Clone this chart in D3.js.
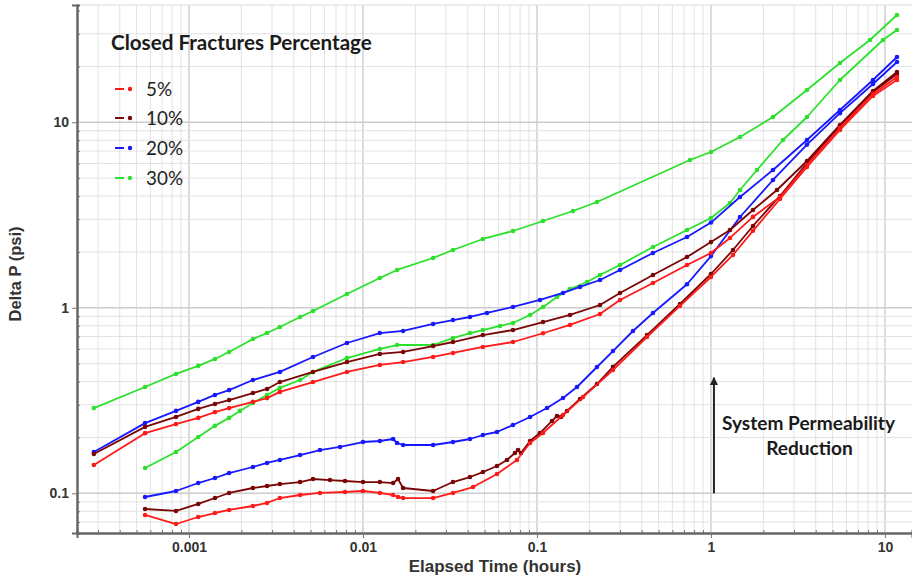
<!DOCTYPE html>
<html>
<head>
<meta charset="utf-8">
<script src="https://cdn.jsdelivr.net/npm/d3@7"></script>
<style>
  html, body { margin: 0; padding: 0; background: #fff; }
  svg { display: block; }
</style>
</head>
<body>
<svg id="chart" width="912" height="580"></svg>
<script>
// ---------------- DATA (elapsed time in hours, delta P in psi) ----------------
const legendLabels = ["5%", "10%", "20%", "30%"];
const xTickValues = [0.001, 0.01, 0.1, 1, 10];
const yTickValues = [0.1, 1, 10];

// 5% closed fractures – upper curve
const red5Upper = [
  [0.000284,0.142],[0.000559,0.211],[0.000842,0.236],[0.00113,0.255],[0.00141,0.274],
  [0.00170,0.288],[0.00233,0.311],[0.00281,0.326],[0.00333,0.352],[0.00516,0.398],
  [0.00809,0.451],[0.0125,0.492],[0.0170,0.510],[0.0253,0.543],[0.0329,0.571],
  [0.0489,0.615],[0.0728,0.654],[0.1083,0.729],[0.1548,0.808],
  [0.2302,0.926],[0.300,1.102],[0.464,1.360],[0.728,1.701],[1.0,1.975],
  [1.286,2.38],[1.743,3.09],[2.493,3.957],[3.562,5.886],[5.512,9.318],
  [8.531,14.21],[11.72,17.55]
];
// 5% closed fractures – lower curve
const red5Lower = [
  [0.000559,0.0764],[0.000842,0.0683],[0.00113,0.0745],[0.00141,0.0783],[0.00170,0.0813],
  [0.00233,0.0854],[0.00281,0.0887],[0.00333,0.0943],[0.00435,0.0979],[0.00566,0.1004],
  [0.00788,0.1016],[0.0100,0.1029],[0.0125,0.1004],[0.0149,0.0979],[0.0159,0.0955],
  [0.0170,0.0943],[0.0253,0.0943],[0.0329,0.1004],[0.0429,0.1081],[0.0589,0.1271],
  [0.0767,0.1512],[0.0912,0.1867],[0.1083,0.2113],[0.1411,0.2643],[0.1839,0.330],
  [0.2734,0.4621],[0.4287,0.6959],[0.6634,1.023],[1.0,1.466],[1.338,1.926],
  [1.743,2.60],[2.493,3.859],[3.562,5.741],[5.512,9.089],[8.531,13.86],[11.72,16.90]
];
// 10% closed fractures – upper curve
const darkRed10Upper = [
  [0.000284,0.163],[0.000559,0.228],[0.000842,0.258],[0.00113,0.285],[0.00141,0.303],
  [0.00170,0.318],[0.00233,0.347],[0.00281,0.365],[0.00333,0.398],[0.00516,0.451],
  [0.00809,0.510],[0.0125,0.564],[0.0170,0.578],[0.0253,0.622],[0.0329,0.654],
  [0.0489,0.713],[0.0728,0.759],[0.1083,0.838],[0.1548,0.915],[0.2302,1.035],
  [0.300,1.202],[0.464,1.503],[0.728,1.878],[1.0,2.26],[1.286,2.627],
  [1.743,3.367],[2.395,4.315],[3.562,6.186],[5.512,9.671],[8.531,14.75],[11.72,18.67]
];
// 10% closed fractures – lower curve
const darkRed10Lower = [
  [0.000559,0.0823],[0.000842,0.0803],[0.00113,0.0876],[0.00141,0.0943],[0.00170,0.1004],
  [0.00233,0.1068],[0.00281,0.1095],[0.00333,0.1122],[0.00435,0.1150],[0.00516,0.1194],
  [0.00646,0.1179],[0.00788,0.1165],[0.0100,0.1150],[0.0125,0.1150],[0.0149,0.1136],
  [0.0159,0.1194],[0.0170,0.1068],[0.0253,0.1029],[0.0329,0.1150],[0.0412,0.1224],
  [0.0489,0.1302],[0.0589,0.1404],[0.0672,0.1512],[0.0747,0.1649],[0.0778,0.1711],
  [0.0809,0.1649],[0.0912,0.1914],[0.1040,0.2113],[0.1220,0.2454],[0.1303,0.2610],
  [0.1374,0.2578],[0.1487,0.2777],[0.1767,0.3224],[0.2212,0.3883],[0.2734,0.480],
  [0.4287,0.713],[0.6634,1.048],[1.0,1.521],[1.338,2.049],[1.743,2.761],
  [2.493,4.007],[3.562,6.035],[5.512,9.552],[8.531,14.57],[11.72,18.21]
];
// 20% closed fractures – upper curve
const blue20Upper = [
  [0.000284,0.167],[0.000559,0.239],[0.000842,0.278],[0.00113,0.311],[0.00141,0.339],
  [0.00170,0.360],[0.00233,0.408],[0.00333,0.451],[0.00516,0.543],[0.00809,0.646],
  [0.0125,0.731],[0.0170,0.750],[0.0253,0.818],[0.0329,0.859],[0.0412,0.892],
  [0.0516,0.938],[0.0728,1.010],[0.1040,1.102],[0.1411,1.202],[0.1767,1.295],
  [0.2302,1.412],[0.300,1.599],[0.464,1.975],[0.728,2.408],[1.0,2.88],
  [1.468,3.957],[2.272,5.533],[3.562,8.027],[5.512,11.65],
  [8.531,16.90],[11.72,22.49]
];
// 20% closed fractures – lower curve
const blue20Lower = [
  [0.000559,0.0955],[0.000842,0.1029],[0.00113,0.1136],[0.00141,0.1209],[0.00170,0.1286],
  [0.00233,0.1386],[0.00281,0.1457],[0.00333,0.1512],[0.00435,0.1608],[0.00566,0.1711],
  [0.00738,0.1777],[0.0100,0.1890],[0.0125,0.1914],[0.0149,0.1962],[0.0157,0.1867],
  [0.0170,0.1821],[0.0253,0.1821],[0.0329,0.1890],[0.0412,0.1962],[0.0489,0.2062],
  [0.0589,0.2140],[0.0728,0.2334],[0.0912,0.2578],[0.1142,0.2883],[0.1411,0.3264],
  [0.1698,0.3741],[0.2212,0.4796],[0.2734,0.5848],[0.3562,0.7498],[0.464,0.9376],
  [0.728,1.34],[1.0,1.90],[1.468,3.086],[2.272,4.886],[3.562,7.58],
  [5.512,11.20],[8.531,16.08],[11.72,21.14]
];
// 30% closed fractures – upper curve
const green30Upper = [
  [0.000284,0.288],[0.000559,0.374],[0.000842,0.440],[0.00113,0.486],[0.00141,0.530],
  [0.00170,0.578],[0.00233,0.679],[0.00281,0.731],[0.00333,0.788],[0.00435,0.892],
  [0.00516,0.961],[0.00809,1.187],[0.0125,1.447],[0.0157,1.599],[0.0253,1.855],
  [0.0329,2.049],[0.0489,2.349],[0.0728,2.594],[0.1083,2.937],[0.1610,3.325],
  [0.2212,3.719],[0.757,6.264],[1.0,6.918],[1.468,8.331],[2.272,10.68],
  [3.562,14.93],[5.512,20.88],[8.200,27.78],[11.72,37.88]
];
// 30% closed fractures – lower curve
const green30Lower = [
  [0.000559,0.137],[0.000842,0.167],[0.00113,0.201],[0.00141,0.231],[0.00170,0.255],
  [0.00196,0.278],[0.00233,0.307],[0.00281,0.339],[0.00333,0.370],[0.00435,0.408],
  [0.00516,0.451],[0.00809,0.536],[0.0125,0.600],[0.0157,0.630],[0.0253,0.630],
  [0.0329,0.687],[0.0412,0.731],[0.0489,0.759],[0.0613,0.798],[0.0728,0.828],
  [0.0912,0.915],[0.1083,1.010],[0.1303,1.144],[0.1548,1.263],[0.1939,1.377],
  [0.2302,1.503],[0.300,1.701],[0.464,2.127],[0.728,2.627],[1.0,3.049],
  [1.286,3.673],[1.468,4.315],[1.838,5.533],[2.593,8.027],[3.562,10.68],
  [5.512,16.90],[9.739,27.78],[11.72,31.45]
];

// annotation anchor (data coordinates)
const arrowTime = 1.04, arrowFrom = 0.1, arrowTo = 0.42;

// ---------------- STYLE ----------------
const colors = { "5%": "#ff1a1a", "10%": "#7a0505", "20%": "#1818ff", "30%": "#2ee02e" };
const curves = [
  { key: "30%", data: green30Upper }, { key: "30%", data: green30Lower },
  { key: "20%", data: blue20Upper },  { key: "20%", data: blue20Lower },
  { key: "10%", data: darkRed10Upper }, { key: "10%", data: darkRed10Lower },
  { key: "5%", data: red5Upper },     { key: "5%", data: red5Lower }
];

const plot = { left: 77, right: 912, top: 5, bottom: 533 };
const axisFont = "'Liberation Sans', Arial, sans-serif";
const labelFont = "Lato, 'Open Sans', sans-serif";

const svg = d3.select("#chart");

const x = d3.scaleLog().domain([0.0002272, 14.30]).range([plot.left, plot.right]);
const y = d3.scaleLog().domain([0.06109, 42.88]).range([plot.bottom, plot.top]);

// ---------------- GRID ----------------
const isMajor = v => Math.abs(Math.log10(v) - Math.round(Math.log10(v))) < 1e-6;
const xGrid = x.ticks();
const yGrid = y.ticks().filter(v => y(v) > plot.top + 8);

const grid = svg.append("g");
grid.selectAll("line.vx").data(xGrid).join("line")
  .attr("x1", d => x(d)).attr("x2", d => x(d))
  .attr("y1", plot.top).attr("y2", plot.bottom)
  .attr("stroke", d => isMajor(d) ? "#cccccc" : "#e2e2e2")
  .attr("stroke-width", d => isMajor(d) ? 1.4 : 1);
grid.selectAll("line.hy").data(yGrid).join("line")
  .attr("x1", plot.left).attr("x2", plot.right)
  .attr("y1", d => y(d)).attr("y2", d => y(d))
  .attr("stroke", d => isMajor(d) ? "#cccccc" : "#e2e2e2")
  .attr("stroke-width", d => isMajor(d) ? 1.4 : 1);
grid.append("line")
  .attr("x1", plot.left).attr("x2", plot.right)
  .attr("y1", plot.top).attr("y2", plot.top)
  .attr("stroke", "#dcdcdc").attr("stroke-width", 1.2);

// ---------------- CURVES ----------------
const line = d3.line().x(d => x(d[0])).y(d => y(d[1]));
const curveG = svg.append("g");
curves.forEach(c => {
  const g = curveG.append("g");
  g.append("path").datum(c.data)
    .attr("d", line).attr("fill", "none")
    .attr("stroke", colors[c.key]).attr("stroke-width", 1.8)
    .attr("stroke-linejoin", "round");
  g.selectAll("circle").data(c.data).join("circle")
    .attr("cx", d => x(d[0])).attr("cy", d => y(d[1]))
    .attr("r", 2.3).attr("fill", colors[c.key]);
});

// ---------------- AXES ----------------
const fmt = d => d >= 1 ? d3.format("d")(d) : String(d);
const xMinor = xGrid.filter(v => !isMajor(v));
const yMinor = y.ticks().filter(v => !isMajor(v));

const xAxisG = svg.append("g").attr("transform", `translate(0,${plot.bottom})`);
xAxisG.call(d3.axisBottom(x).tickValues(xMinor).tickSize(-3).tickFormat(""));
xAxisG.append("g").call(d3.axisBottom(x).tickValues(xTickValues).tickSize(5).tickPadding(4).tickFormat(fmt));

const yAxisG = svg.append("g").attr("transform", `translate(${plot.left},0)`);
yAxisG.call(d3.axisLeft(y).tickValues(yMinor).tickSize(-3).tickFormat(""));
yAxisG.append("g").call(d3.axisLeft(y).tickValues(yTickValues).tickSize(5).tickPadding(3).tickFormat(fmt));

svg.selectAll(".domain").attr("stroke", "#666").attr("stroke-width", 2);
svg.selectAll(".tick line").attr("stroke", "#777").attr("stroke-width", 1);
svg.selectAll(".tick text")
  .attr("font-family", axisFont).attr("font-weight", "bold")
  .attr("font-size", 14).attr("fill", "#333");

svg.append("text")
  .attr("x", 495).attr("y", 572)
  .attr("text-anchor", "middle")
  .attr("font-family", axisFont).attr("font-weight", "bold").attr("font-size", 17)
  .attr("fill", "#333").text("Elapsed Time (hours)");

svg.append("text")
  .attr("transform", "translate(21,274) rotate(-90)")
  .attr("text-anchor", "middle")
  .attr("font-family", axisFont).attr("font-weight", "bold").attr("font-size", 16.5)
  .attr("fill", "#333").text("Delta P (psi)");

// ---------------- LEGEND ----------------
function fitWidth(sel, w) {
  const len = sel.node().getComputedTextLength();
  const fs = parseFloat(sel.attr("font-size"));
  if (len > 0) sel.attr("font-size", (fs * w / len).toFixed(2));
  return sel;
}

const leg = svg.append("g");
const legTitle = leg.append("text")
  .attr("x", 111).attr("y", 50)
  .attr("font-family", labelFont).attr("font-weight", "bold").attr("font-size", 20)
  .attr("fill", "#1a1a1a").text("Closed Fractures Percentage");
fitWidth(legTitle, 261);

const legRowY = [89, 118, 148, 178];
const probe = leg.append("text").attr("font-family", labelFont)
  .attr("font-size", 20).text("10%");
fitWidth(probe, 37);
const legFs = probe.attr("font-size");
probe.remove();

legendLabels.forEach((k, i) => {
  const yy = legRowY[i];
  leg.append("line").attr("x1", 115).attr("x2", 124).attr("y1", yy).attr("y2", yy)
    .attr("stroke", colors[k]).attr("stroke-width", 2);
  leg.append("circle").attr("cx", 130).attr("cy", yy).attr("r", 2.2).attr("fill", colors[k]);
  leg.append("text").attr("x", 146).attr("y", yy).attr("dy", "0.35em")
    .attr("font-family", labelFont).attr("font-size", legFs)
    .attr("fill", "#222").text(k);
});

// ---------------- ANNOTATION ----------------
const ax = x(arrowTime);
svg.append("defs").append("marker")
  .attr("id", "arrowhead").attr("viewBox", "0 0 10 10")
  .attr("refX", 9).attr("refY", 5)
  .attr("markerWidth", 4.2).attr("markerHeight", 4.2)
  .attr("orient", "auto")
  .append("path").attr("d", "M0,0 L10,5 L0,10 z").attr("fill", "#222");
svg.append("line")
  .attr("x1", ax).attr("x2", ax)
  .attr("y1", y(arrowFrom)).attr("y2", y(arrowTo))
  .attr("stroke", "#222").attr("stroke-width", 2)
  .attr("marker-end", "url(#arrowhead)");

const ann1 = svg.append("text")
  .attr("x", 808.5).attr("y", 430).attr("text-anchor", "middle")
  .attr("font-family", labelFont).attr("font-weight", "bold").attr("font-size", 20)
  .attr("fill", "#1a1a1a").text("System Permeability");
fitWidth(ann1, 173);
svg.append("text")
  .attr("x", 809.5).attr("y", 455).attr("text-anchor", "middle")
  .attr("font-family", labelFont).attr("font-weight", "bold").attr("font-size", ann1.attr("font-size"))
  .attr("fill", "#1a1a1a").text("Reduction");
</script>
</body>
</html>
